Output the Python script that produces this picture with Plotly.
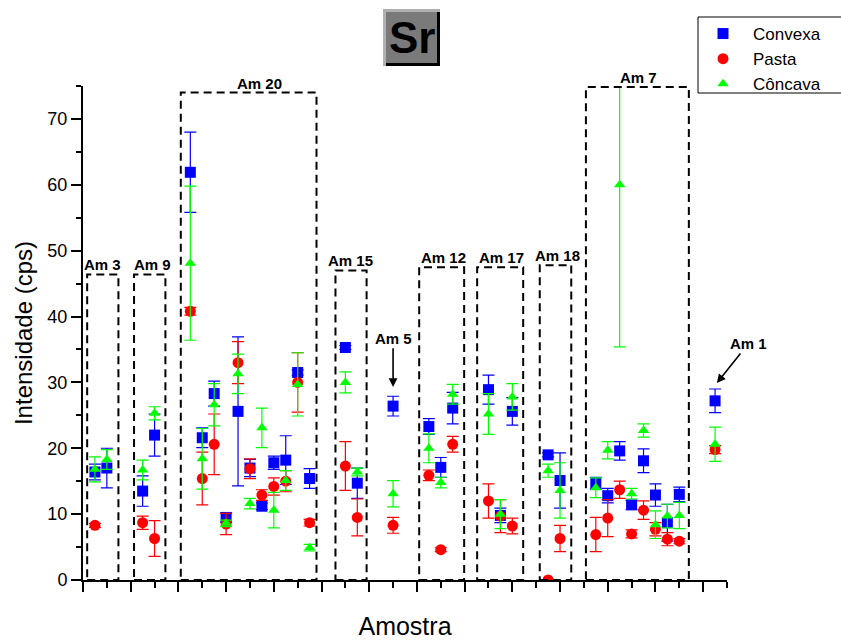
import plotly.graph_objects as go

# Sample positions along the "Amostra" axis
positions = [1, 2, 5, 6, 9, 10, 11, 12, 13, 14, 15, 16, 17, 18, 19,
             22, 23, 26, 29, 30, 31, 34, 35, 36, 39, 40,
             43, 44, 45, 46, 47, 48, 49, 50, 53]

convexa = [16.4, 17.0, 13.5, 22.0, 61.9, 21.6, 28.3, 9.5, 25.6, 17.0, 11.2, 17.8, 18.2, 31.5, 15.4,
           35.3, 14.7, 26.4, 23.3, 17.1, 26.1, 28.9, 9.8, 25.6, 19.0, 15.1,
           14.7, 12.8, 19.6, 11.4, 18.1, 12.9, 8.7, 13.0, 27.2]
convexa_err = [1.2, 3.0, 2.3, 3.2, 6.1, 1.5, 1.9, 0.7, 11.3, 1.3, 0.5, 1.0, 3.7, 0.4, 1.5,
               0.3, 2.3, 1.5, 1.2, 1.5, 2.4, 2.2, 1.1, 2.1, 0.3, 4.2,
               0.9, 1.1, 1.4, 0.7, 1.8, 1.7, 2.8, 1.1, 1.8]

pasta = [8.3, None, 8.7, 6.3, 40.8, 15.4, 20.6, 8.5, 33.0, 16.9, 12.9, 14.2, 15.0, 30.0, 8.7,
         17.3, 9.5, 8.3, 15.9, 4.6, 20.6, 12.0, 9.7, 8.2, 0.0, 6.3,
         6.9, 9.4, 13.7, 7.0, 10.6, 7.7, 6.2, 5.9, 19.8]
pasta_err = [0.3, 0, 1.0, 2.7, 0.6, 4.0, 4.6, 1.6, 3.2, 1.5, 0.8, 1.3, 1.6, 4.5, 0.5,
             3.7, 2.8, 1.2, 0.8, 0.3, 1.2, 2.6, 2.5, 1.2, 0.0, 2.0,
             2.6, 2.8, 1.3, 0.6, 1.4, 1.0, 1.0, 0.4, 0.6]

concava = [16.8, 18.3, 16.7, 25.3, 48.1, 18.4, 26.6, 8.6, 31.3, 11.6, 23.1, 10.6, 15.1, 29.7, 4.9,
           30.0, 16.4, 13.1, 20.0, 14.8, 28.2, 25.2, 10.0, 27.8, 16.6, 13.6,
           14.0, 19.7, 60.0, 13.1, 22.7, 8.4, 9.7, 9.8, 20.6]
concava_err = [1.9, 1.5, 1.5, 1.0, 11.7, 4.6, 3.2, 0.5, 3.0, 0.8, 3.0, 2.7, 1.5, 4.8, 0.5,
               1.6, 0.6, 2.0, 2.2, 0.8, 1.5, 3.1, 2.2, 2.0, 1.0, 4.2,
               1.5, 1.3, 24.6, 0.8, 1.0, 2.1, 1.8, 2.0, 2.6]

# Sample groups: label, left, right, top, label position
group_names = ["Am 3", "Am 9", "Am 20", "Am 15", "Am 12", "Am 17", "Am 18", "Am 7"]
group_left = [0.35, 4.28, 8.2, 21.17, 28.19, 33.05, 38.3, 42.17]
group_right = [2.97, 6.91, 19.58, 23.78, 31.96, 36.91, 40.94, 50.8]
group_top = [46.4, 46.4, 74.0, 47.0, 47.5, 47.5, 47.8, 74.85]
group_label_x = [1.64, 5.8, 14.8, 22.46, 30.2, 35.1, 39.75, 46.6]

# Single samples pointed to by arrows: label, head (x, y), text (x, y)
single_names = ["Am 5", "Am 1"]
single_head = [(26.0, 29.3), (53.15, 29.9)]
single_text = [(26.0, 36.7), (55.8, 35.9)]

FONT = "Arial, Liberation Sans, sans-serif"
W, H = 841, 640
ML, MR, MT, MB = 83, 114, 86, 60


def px_x(px):
    return (px - ML) / (W - ML - MR)


def px_y(py):
    return (H - MB - py) / (H - MT - MB)


fig = go.Figure()

series = [
    ("Convexa", convexa, convexa_err, "#0000FF", "square", 11),
    ("Pasta", pasta, pasta_err, "#FF0000", "circle", 11),
    ("Côncava", concava, concava_err, "#00FF00", "triangle-up", 10),
]
for name, vals, errs, color, symbol, size in series:
    fig.add_trace(go.Scatter(
        x=positions, y=vals, name=name, mode="markers",
        marker=dict(color=color, symbol=symbol, size=size, line=dict(width=0)),
        error_y=dict(type="data", array=errs, visible=True, color=color,
                     thickness=1.2, width=6),
    ))

shapes = []
annotations = []

# Dashed frames around the sample groups
for name, x0, x1, top, lx in zip(group_names, group_left, group_right, group_top, group_label_x):
    shapes.append(dict(type="rect", xref="x", yref="y", x0=x0, x1=x1, y0=0, y1=top,
                       line=dict(color="black", width=2, dash="8px,5px"),
                       fillcolor="rgba(0,0,0,0)", layer="above"))
    annotations.append(dict(x=lx, y=top, xref="x", yref="y", text=name, showarrow=False,
                            yanchor="bottom", yshift=-1,
                            font=dict(family=FONT, size=15, color="black", weight="bold")))

# Arrow labels for single samples
for name, (hx, hy), (tx, ty) in zip(single_names, single_head, single_text):
    annotations.append(dict(x=hx, y=hy, xref="x", yref="y", ax=tx, ay=ty,
                            axref="x", ayref="y", text=name, showarrow=True,
                            arrowhead=2, arrowsize=1.1, arrowwidth=1.6, arrowcolor="black",
                            standoff=0,
                            font=dict(family=FONT, size=15, color="black", weight="bold")))

# Bevelled "Sr" title badge
shapes += [
    dict(type="rect", xref="paper", yref="paper", x0=px_x(383), x1=px_x(440),
         y0=px_y(66), y1=px_y(9), fillcolor="#b0b0b0", line=dict(width=0)),
    dict(type="rect", xref="paper", yref="paper", x0=px_x(386), x1=px_x(440),
         y0=px_y(66), y1=px_y(12), fillcolor="#000000", line=dict(width=0)),
    dict(type="rect", xref="paper", yref="paper", x0=px_x(386), x1=px_x(437),
         y0=px_y(63), y1=px_y(12), fillcolor="#7a7a7a", line=dict(width=0)),
]
annotations.append(dict(x=px_x(412), y=px_y(38), xref="paper", yref="paper", text="Sr",
                        showarrow=False, xanchor="center", yanchor="middle",
                        font=dict(family=FONT, size=44, color="black", weight="bold")))

# Legend frame
shapes.append(dict(type="rect", xref="paper", yref="paper", x0=px_x(698), x1=px_x(846),
                   y0=px_y(93), y1=px_y(17), fillcolor="white",
                   line=dict(color="black", width=1)))

axis_common = dict(
    showline=True, linecolor="black", linewidth=2, mirror=False,
    showgrid=False, zeroline=False,
    ticks="outside", ticklen=10, tickwidth=2, tickcolor="black",
)

fig.update_layout(
    width=W, height=H,
    margin=dict(l=ML, r=MR, t=MT, b=MB, autoexpand=False),
    paper_bgcolor="white", plot_bgcolor="white",
    font=dict(family=FONT, color="black"),
    showlegend=True,
    legend=dict(x=px_x(693), y=px_y(16), xanchor="left", yanchor="top",
                bgcolor="rgba(0,0,0,0)", borderwidth=0, itemwidth=50,
                font=dict(family=FONT, size=17, color="black")),
    xaxis=dict(range=[0, 54], tick0=0, dtick=4, showticklabels=False,
               minor=dict(dtick=2, tick0=0, ticks="outside", ticklen=6, tickwidth=2, tickcolor="black"),
               title=dict(text="Amostra", font=dict(family=FONT, size=25), standoff=26),
               **axis_common),
    yaxis=dict(range=[0, 75], tick0=0, dtick=10,
               tickfont=dict(family=FONT, size=18),
               minor=dict(dtick=5, tick0=0, ticks="outside", ticklen=5, tickwidth=2, tickcolor="black"),
               title=dict(text="Intensidade (cps)", font=dict(family=FONT, size=24), standoff=8),
               **axis_common),
    shapes=shapes,
    annotations=annotations,
)

fig.write_html("out.html")
